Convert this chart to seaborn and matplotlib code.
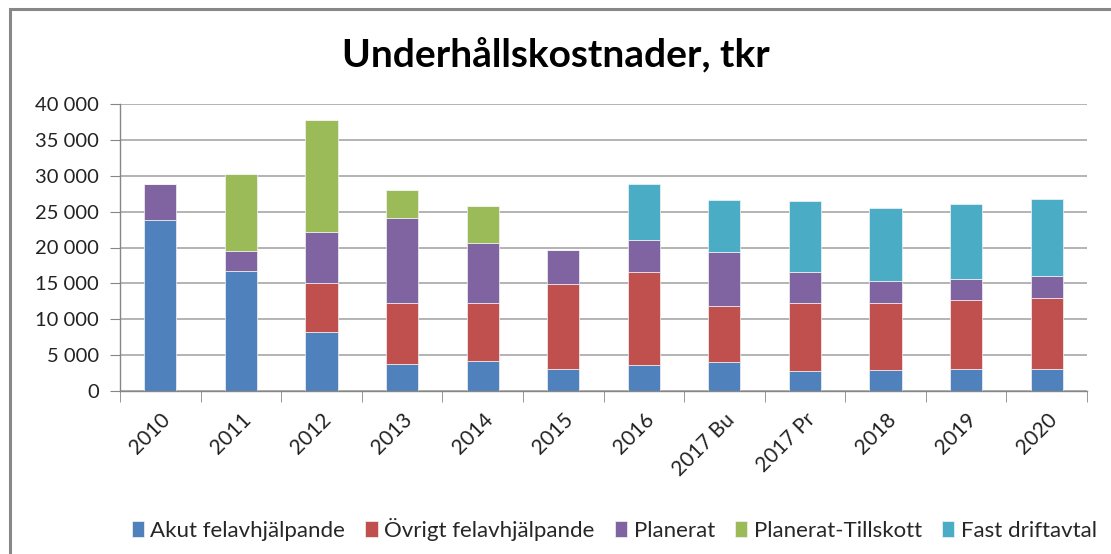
import numpy as np
import pandas as pd
import matplotlib.pyplot as plt
import seaborn as sns
from matplotlib.patches import Rectangle
from matplotlib.ticker import FuncFormatter

years = ['2010', '2011', '2012', '2013', '2014', '2015', '2016',
         '2017 Bu', '2017 Pr', '2018', '2019', '2020']
akut = [23800, 16700, 8200, 3700, 4200, 3100, 3600, 4050, 2750, 2950, 3050, 3050]
ovrigt = [0, 0, 6800, 8600, 8000, 11800, 13050, 7800, 9450, 9350, 9600, 9900]
planerat = [5100, 2750, 7200, 11850, 8400, 4750, 4450, 7500, 4400, 3050, 3000, 3050]
tillskott = [0, 10850, 15600, 3800, 5250, 0, 0, 0, 0, 0, 0, 0]
fast = [0, 0, 0, 0, 0, 0, 7800, 7300, 9900, 10200, 10350, 10800]

series = ['Akut felavhjälpande', 'Övrigt felavhjälpande', 'Planerat',
          'Planerat-Tillskott', 'Fast driftavtal']
colors = ['#4F81BD', '#C0504D', '#8064A2', '#9BBB59', '#4BACC6']

df = pd.DataFrame({'year': years, series[0]: akut, series[1]: ovrigt,
                   series[2]: planerat, series[3]: tillskott, series[4]: fast})

sns.set_style("white")
plt.rcParams['font.family'] = ['Lato', 'DejaVu Sans']

fig = plt.figure(figsize=(11.11, 5.54), dpi=100)
ax = fig.add_axes([120 / 1111, 1 - 391 / 554, (1087 - 120) / 1111, (391 - 104) / 554])

bottom = np.zeros(len(years))
for name, col in zip(series, colors):
    sns.barplot(data=df, x='year', y=name, color=col, bottom=bottom, width=0.4,
                saturation=1, ax=ax, label=name, edgecolor='#f4f4f4', linewidth=0.5)
    bottom = bottom + df[name].values

ax.set_ylim(0, 40000)
ax.set_xlim(-0.5, len(years) - 0.5)
ax.set_yticks(range(0, 40001, 5000))
ax.yaxis.set_major_formatter(FuncFormatter(lambda v, p: f"{int(v):,}".replace(',', ' ')))
ax.yaxis.grid(True, color='#b3b3b3', linewidth=1.4)
ax.set_axisbelow(True)
ax.set_xlabel('')
ax.set_ylabel('')

for s in ['top', 'right']:
    ax.spines[s].set_visible(False)
for s in ['left', 'bottom']:
    ax.spines[s].set_color('#868686')
    ax.spines[s].set_linewidth(1.0)

ax.tick_params(axis='y', left=True, length=7, color='#868686', labelsize=14.5,
               labelcolor='#222222', pad=8)
ax.set_xticks(np.arange(len(years)))
ax.set_xticklabels(years, rotation=45, ha='right', rotation_mode='anchor',
                   fontsize=15, color='#222222')
ax.tick_params(axis='x', bottom=False, pad=10)
# tick marks between categories
ax.set_xticks(np.arange(-0.5, len(years)), minor=True)
ax.tick_params(axis='x', which='minor', bottom=True, length=8, color='#868686')

handles, labels = ax.get_legend_handles_labels()
if ax.get_legend() is not None:
    ax.get_legend().remove()

fig.text(0.5, 1 - 55 / 554, 'Underhållskostnader, tkr', ha='center', va='center',
         fontsize=28, fontweight='bold', color='black')

fig.legend(handles, labels, loc='lower right', bbox_to_anchor=(1110 / 1111, 0.0),
           ncol=5, frameon=False, fontsize=16, handlelength=0.55, handleheight=0.7,
           handletextpad=0.3, columnspacing=0.9, borderaxespad=0.2)

fig.add_artist(Rectangle((10 / 1111, -0.05), 1.2, 1 - 9 / 554 + 0.05,
                         transform=fig.transFigure, fill=False,
                         edgecolor='#878787', linewidth=2.2))

fig.savefig('out.png', dpi=100)
